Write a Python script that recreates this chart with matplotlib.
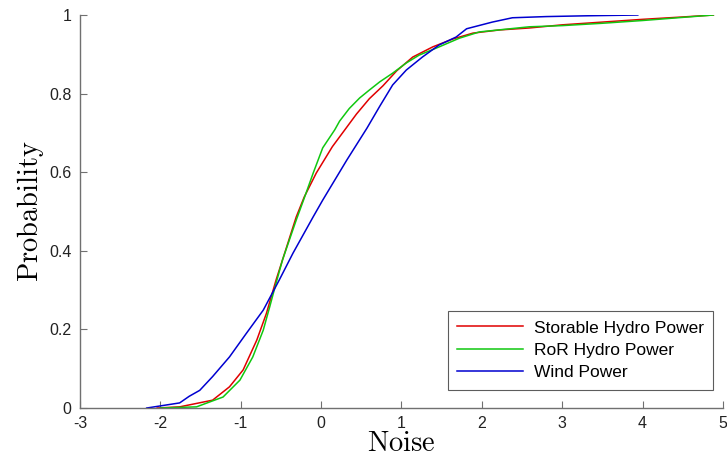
import matplotlib
matplotlib.use("Agg")
import matplotlib.pyplot as plt
import numpy as np

# ── Dados (CDF empírica do ruído) ────────────────────────────────────────────
storable_x = [-2.04, -1.76, -1.35, -1.14, -0.97, -0.80, -0.68, -0.56, -0.48, -0.31,
              -0.21, -0.06, 0.14, 0.31, 0.44, 0.60, 0.77, 0.94, 1.14, 1.39,
              1.64, 1.89, 2.22, 2.59, 3.0, 3.5, 4.0, 4.5, 4.88]
storable_p = [0.0, 0.003, 0.020, 0.054, 0.097, 0.173, 0.241, 0.326, 0.377, 0.486,
              0.537, 0.598, 0.665, 0.712, 0.748, 0.787, 0.820, 0.858, 0.893, 0.919,
              0.939, 0.954, 0.962, 0.967, 0.975, 0.982, 0.989, 0.995, 1.0]

ror_x = [-2.00, -1.55, -1.22, -1.01, -0.85, -0.72, -0.64, -0.56, -0.48, -0.31,
         -0.21, -0.10, 0.02, 0.17, 0.23, 0.35, 0.48, 0.60, 0.73, 0.89,
         1.06, 1.22, 1.47, 1.72, 1.97, 2.59, 3.0, 3.5, 4.0, 4.5, 4.88]
ror_p = [0.0, 0.003, 0.028, 0.071, 0.130, 0.198, 0.257, 0.318, 0.377, 0.478,
         0.534, 0.597, 0.662, 0.708, 0.730, 0.762, 0.789, 0.809, 0.830, 0.852,
         0.878, 0.898, 0.919, 0.941, 0.957, 0.970, 0.973, 0.979, 0.986, 0.994, 1.0]

wind_x = [-2.17, -1.76, -1.64, -1.51, -1.35, -1.14, -0.93, -0.72, -0.52, -0.35,
          -0.10, 0.02, 0.32, 0.57, 0.73, 0.89, 1.06, 1.26, 1.47, 1.68,
          1.81, 2.13, 2.38, 2.8, 3.3, 3.94]
wind_p = [0.0, 0.013, 0.030, 0.045, 0.080, 0.130, 0.190, 0.249, 0.326, 0.394,
          0.486, 0.529, 0.631, 0.712, 0.768, 0.822, 0.860, 0.893, 0.924, 0.944,
          0.965, 0.982, 0.993, 0.996, 0.998, 1.0]

labels = ["Storable Hydro Power", "RoR Hydro Power", "Wind Power"]
x_ticks = [-3, -2, -1, 0, 1, 2, 3, 4, 5]
y_ticks = [0, 0.2, 0.4, 0.6, 0.8, 1]
y_tick_labels = ["0", "0.2", "0.4", "0.6", "0.8", "1"]

plt.rcParams["font.family"] = ["Liberation Sans", "DejaVu Sans"]
plt.rcParams["mathtext.fontset"] = "cm"

fig = plt.figure(figsize=(7.27, 4.69), dpi=100)
ax = fig.add_axes([0.110, 0.130, 0.8845, 0.838])

ax.plot(storable_x, storable_p, color="#e00000", lw=1.1, label=labels[0])
ax.plot(ror_x, ror_p, color="#10c810", lw=1.1, label=labels[1])
ax.plot(wind_x, wind_p, color="#0000d0", lw=1.1, label=labels[2])

ax.set_xlim(-3, 5)
ax.set_ylim(0, 1)
ax.set_xticks(x_ticks)
ax.set_xticklabels([str(t) for t in x_ticks])
ax.set_yticks(y_ticks)
ax.set_yticklabels(y_tick_labels)

gray = "#707070"
for s in ["top", "right"]:
    ax.spines[s].set_visible(False)
for s in ["left", "bottom"]:
    ax.spines[s].set_color(gray)
    ax.spines[s].set_linewidth(1.0)
ax.tick_params(direction="in", length=5, color=gray, labelsize=11.5, labelcolor="#222222", pad=6)

ax.set_xlabel(r"$\mathrm{Noise}$", fontsize=20.5, labelpad=0)
ax.set_ylabel(r"$\mathrm{Probability}$", fontsize=20.5, labelpad=2)

# legenda um pouco maior, como no original
leg = ax.legend(loc="lower right", bbox_to_anchor=(0.985, 0.046), borderaxespad=0,
                fontsize=12.5, frameon=True, fancybox=False, edgecolor="#333333",
                handlelength=3.8, handletextpad=0.6, borderpad=0.55, labelspacing=0.42)
leg.get_frame().set_linewidth(0.8)

plt.savefig("out.png", dpi=100)
